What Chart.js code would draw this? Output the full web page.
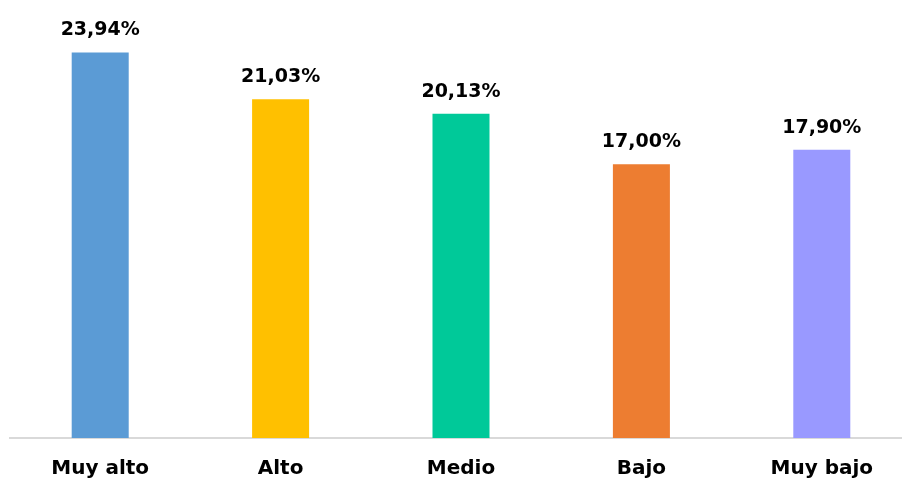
<!DOCTYPE html>
<html>
<head>
<meta charset="utf-8">
<script src="https://cdn.jsdelivr.net/npm/chart.js@4.4.1/dist/chart.umd.min.js"></script>
<style>
  html, body { margin: 0; padding: 0; background: #ffffff; overflow: hidden; }
  #wrap { position: relative; width: 912px; height: 505px; }
</style>
</head>
<body>
<div id="wrap"><canvas id="chart"></canvas></div>
<script>
// Distribution by level
const categories = ["Muy alto", "Alto", "Medio", "Bajo", "Muy bajo"];
const values = [23.94, 21.03, 20.13, 17.00, 17.90];
const barColors = ["#5B9BD5", "#FFC000", "#00C999", "#ED7D31", "#9999FF"];

const FONT = "'DejaVu Sans', sans-serif";

const valueLabels = {
  id: "valueLabels",
  afterDatasetsDraw(chart) {
    const ctx = chart.ctx;
    const meta = chart.getDatasetMeta(0);
    ctx.save();
    ctx.font = "bold 19px " + FONT;
    ctx.fillStyle = "#000000";
    ctx.textAlign = "center";
    ctx.textBaseline = "alphabetic";
    meta.data.forEach((bar, i) => {
      const txt = values[i].toFixed(2).replace(".", ",") + "%";
      ctx.fillText(txt, bar.x, bar.y - 17);
    });
    ctx.restore();
  }
};

new Chart(document.getElementById("chart"), {
  type: "bar",
  data: {
    labels: categories,
    datasets: [{
      data: values,
      backgroundColor: barColors,
      borderWidth: 0,
      barPercentage: 0.632,
      categoryPercentage: 0.5
    }]
  },
  options: {
    responsive: true,
    maintainAspectRatio: false,
    animation: false,
    layout: { padding: { left: 10, right: 0, top: 0, bottom: 13 } },
    plugins: { legend: { display: false }, tooltip: { enabled: false } },
    scales: {
      x: {
        grid: { display: false },
        border: { display: true, color: "#D9D9D9", width: 2 },
        ticks: { color: "#000000", font: { family: FONT, size: 20, weight: "bold" }, padding: 11, maxRotation: 0 }
      },
      y: {
        display: false,
        min: 0,
        max: 27.2
      }
    }
  },
  plugins: [valueLabels]
});
</script>
</body>
</html>
